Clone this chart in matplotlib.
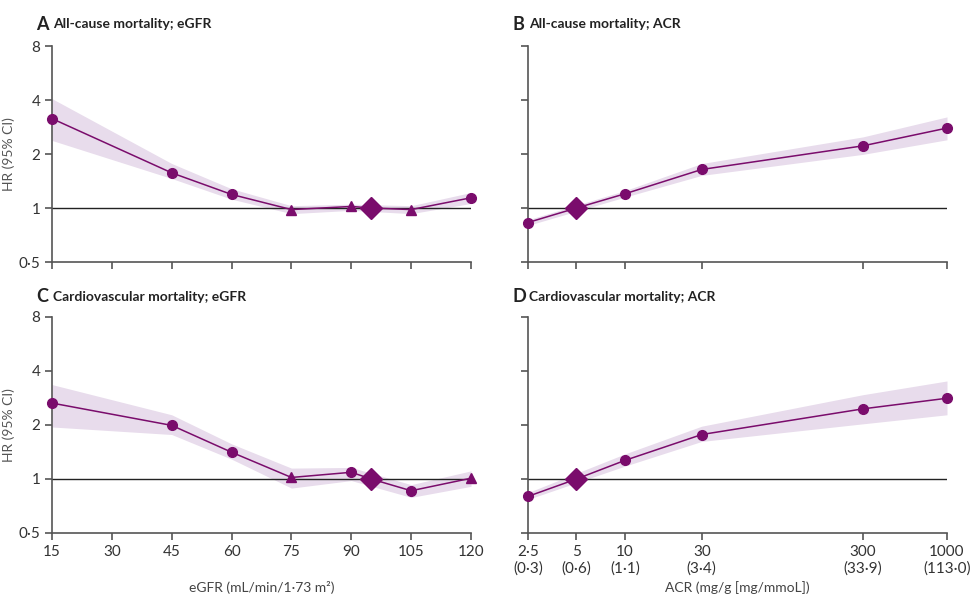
import numpy as np
import matplotlib
matplotlib.use('Agg')
import matplotlib.pyplot as plt
from matplotlib.ticker import FixedLocator, NullLocator

plt.rcParams['font.family'] = ['Lato', 'DejaVu Sans']

PURPLE = '#7a0c6c'
BAND = '#e8dcec'
SPINE = '#555555'

# eGFR categories (mL/min/1.73 m2); 95 is the reference
egfr_x = [15, 45, 60, 75, 90, 95, 105, 120]
egfr_marker = ['o', 'o', 'o', '^', '^', 'D', '^', 'o']
egfr_all_hr = [3.15, 1.57, 1.19, 0.98, 1.02, 1.0, 0.98, 1.14]
egfr_all_lo = [2.38, 1.46, 1.12, 0.93, 0.97, 1.0, 0.93, 1.06]
egfr_all_hi = [4.07, 1.77, 1.28, 1.03, 1.05, 1.0, 1.03, 1.22]

egfr_cv_marker = ['o', 'o', 'o', '^', 'o', 'D', 'o', '^']
egfr_cv_hr = [2.65, 1.99, 1.41, 1.02, 1.09, 1.0, 0.86, 1.01]
egfr_cv_lo = [1.95, 1.77, 1.29, 0.89, 0.98, 1.0, 0.79, 0.91]
egfr_cv_hi = [3.36, 2.28, 1.57, 1.15, 1.16, 1.0, 0.93, 1.11]

# ACR categories (mg/g); 5 is the reference
acr_x = [2.5, 5, 10, 30, 300, 1000]
acr_marker = ['o', 'D', 'o', 'o', 'o', 'o']
acr_all_hr = [0.83, 1.0, 1.20, 1.64, 2.22, 2.79]
acr_all_lo = [0.80, 1.0, 1.15, 1.52, 1.99, 2.40]
acr_all_hi = [0.86, 1.0, 1.25, 1.77, 2.49, 3.22]

acr_cv_hr = [0.80, 1.0, 1.27, 1.77, 2.46, 2.82]
acr_cv_lo = [0.77, 1.0, 1.18, 1.62, 2.03, 2.28]
acr_cv_hi = [0.84, 1.0, 1.38, 1.97, 2.95, 3.52]

egfr_ticks = [15, 30, 45, 60, 75, 90, 105, 120]
acr_ticks = [2.5, 5, 10, 30, 300, 1000]
acr_ticklabels = ['2·5\n(0·3)', '5\n(0·6)', '10\n(1·1)', '30\n(3·4)', '300\n(33·9)', '1000\n(113·0)']
hr_ticks = [0.5, 1, 2, 4, 8]
hr_ticklabels = ['0·5', '1', '2', '4', '8']

fig = plt.figure(figsize=(9.75, 6.02), dpi=100)

W, H = 975, 602
def add_ax(left, right, top, bottom):
    return fig.add_axes([left / W, 1 - bottom / H, (right - left) / W, (bottom - top) / H])

axA = add_ax(52, 471, 46, 262)
axB = add_ax(528, 947, 46, 262)
axC = add_ax(52, 471, 317, 533)
axD = add_ax(528, 947, 317, 533)


def draw(ax, x, hr, lo, hi, markers):
    x = np.array(x, dtype=float)
    hr = np.array(hr); lo = np.array(lo); hi = np.array(hi)
    keep = np.array([m != 'D' for m in markers])
    ax.fill_between(x[keep], lo[keep], hi[keep], color=BAND, lw=0, zorder=1)
    ax.axhline(1, color='#222222', lw=1.0, zorder=2)
    ax.plot(x, hr, color=PURPLE, lw=1.1, zorder=3, clip_on=False)
    for xi, yi, m in zip(x, hr, markers):
        size = {'o': 7, '^': 7, 'D': 11}[m]
        ax.plot(xi, yi, marker=m, ms=size, color=PURPLE, mec=PURPLE,
                zorder=4, clip_on=False, ls='none')


def style(ax, show_ylabels, show_xlabels, acr):
    ax.set_yscale('log')
    ax.set_ylim(0.5, 8)
    ax.yaxis.set_major_locator(FixedLocator(hr_ticks))
    ax.yaxis.set_minor_locator(NullLocator())
    if show_ylabels:
        ax.set_yticklabels(hr_ticklabels)
        ax.set_ylabel('HR (95% CI)', fontsize=10, color='#555555')
        ax.yaxis.set_label_coords(-37 / 419, 0.5)
    else:
        ax.set_yticklabels([])
    if acr:
        ax.set_xscale('log')
        ax.set_xlim(2.5, 1000)
        ax.xaxis.set_major_locator(FixedLocator(acr_ticks))
        ax.xaxis.set_minor_locator(NullLocator())
        ax.set_xticklabels(acr_ticklabels if show_xlabels else [])
    else:
        ax.set_xlim(15, 120)
        ax.xaxis.set_major_locator(FixedLocator(egfr_ticks))
        ax.set_xticklabels([str(t) for t in egfr_ticks] if show_xlabels else [])
    for s in ['top', 'right']:
        ax.spines[s].set_visible(False)
    for s in ['left', 'bottom']:
        ax.spines[s].set_color(SPINE)
        ax.spines[s].set_linewidth(1.2)
    ax.tick_params(direction='out', length=5, width=1.2, color=SPINE,
                   labelsize=11, labelcolor='#333333')


draw(axA, egfr_x, egfr_all_hr, egfr_all_lo, egfr_all_hi, egfr_marker)
draw(axB, acr_x, acr_all_hr, acr_all_lo, acr_all_hi, acr_marker)
draw(axC, egfr_x, egfr_cv_hr, egfr_cv_lo, egfr_cv_hi, egfr_cv_marker)
draw(axD, acr_x, acr_cv_hr, acr_cv_lo, acr_cv_hi, acr_marker)

style(axA, True, False, False)
style(axB, False, False, True)
style(axC, True, True, False)
style(axD, False, True, True)

# x-axis titles sit at the same height under both bottom panels
axC.set_xlabel('eGFR (mL/min/1·73 m²)', fontsize=10, color='#444444')
axC.xaxis.set_label_coords(0.5, -48 / 216)
axD.set_xlabel('ACR (mg/g [mg/mmoL])', fontsize=10, color='#444444')
axD.xaxis.set_label_coords(0.5, -48 / 216)

titles = [(36, 24, 'A', 'All-cause mortality; eGFR'),
          (512, 24, 'B', 'All-cause mortality; ACR'),
          (36, 297, 'C', 'Cardiovascular mortality; eGFR'),
          (512, 297, 'D', 'Cardiovascular mortality; ACR')]
for x, y, letter, text in titles:
    fig.text(x / W, 1 - y / H, letter, fontsize=13, fontweight='bold',
             color='#222222', va='center', ha='left')
    fig.text((x + 17) / W, 1 - y / H, text, fontsize=10, fontweight='bold',
             color='#222222', va='center', ha='left')

fig.savefig('out.png', dpi=100)
